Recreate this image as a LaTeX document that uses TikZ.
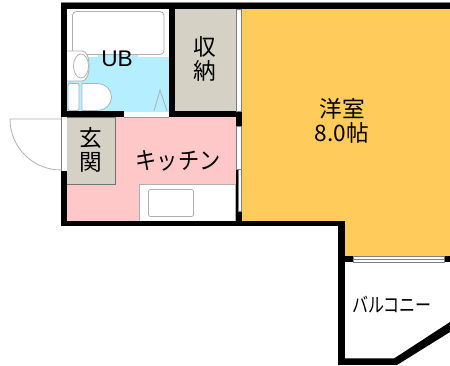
\documentclass[tikz,border=0pt]{standalone}
\usepackage{fontspec}
\setmainfont{Liberation Sans}
\newfontfamily\jp{Noto Sans CJK JP}
\definecolor{orangeroom}{HTML}{FFCC5C}
\definecolor{pinkroom}{HTML}{FFC8C8}
\definecolor{blueroom}{HTML}{B4EEFF}
\definecolor{beigeroom}{HTML}{D5D2C5}
\definecolor{fix}{HTML}{B0B0B0}
\tikzset{
 wall/.style={fill=black,draw=none},
 fixture/.style={draw=fix,fill=white,line width=0.6pt},
 sash/.style={draw=black!50,fill=white,line width=0.6pt},
 lab/.style={font=\jp\fontsize{17}{20}\selectfont,align=center,inner sep=0pt,text=black}
}
\begin{document}
\begin{tikzpicture}[x=0.75pt,y=-0.75pt]
\useasboundingbox (0,0) rectangle (450,366);
\fill[white] (0,0) rectangle (450,366);
% rooms
\fill[orangeroom] (241.5,9) -- (450,9) -- (450,256) -- (344,256) -- (344,221) -- (241.5,221) -- cycle;
\fill[white] (67,9) rectangle (169,57);
\fill[blueroom] (67,57) rectangle (169,112);
\fill[blueroom] (98,46) rectangle (138,57);
\fill[beigeroom] (175,9) rectangle (235.5,111);
\fill[pinkroom] (67,117) rectangle (236,221);
\draw[draw=black!55,fill=beigeroom,line width=0.5pt] (67,117) -- (115.5,117) -- (115.5,184) -- (67,184);
% fixtures
\draw[fixture,rounded corners=3pt] (72.5,11.5) rectangle (164,54.5);
\draw[fixture] (67,51) -- (82,51) .. controls (87,51) and (89,58) .. (89,66) .. controls (89,74) and (87,81) .. (82,81) -- (67,81);
\draw[fixture] (81,66) ellipse [x radius=7.5, y radius=12];
\draw[fixture,rounded corners=1.5pt] (68,83.5) rectangle (79,110.5);
\draw[fixture] (82,83.5) -- (96,83.5) .. controls (106,83.5) and (111.5,90) .. (111.5,97) .. controls (111.5,104) and (106,110.5) .. (96,110.5) -- (82,110.5) -- cycle;
\draw[draw=fix,line width=0.6pt] (154,111) -- (160,90) -- (167,111);
\fill[white,draw=fix,line width=0.5pt] (139.5,184.5) rectangle (235.5,221);
\draw[fixture,rounded corners=1.5pt] (148.5,189.5) rectangle (193.5,216.5);
% door
\draw[draw=fix,line width=0.6pt] (61,119) -- (10,119) arc[start angle=180,end angle=90,radius=51];
% walls
\fill[wall] (61,3) rectangle (450,9);
\fill[wall] (61,3) rectangle (67,117);
\fill[wall] (169,3) rectangle (175,117);
\fill[wall] (61,111.5) rectangle (124,117.5);
\fill[wall] (169,111.5) rectangle (241.5,117.5);
\fill[wall] (235.7,111.5) rectangle (241.5,126.5);
\fill[wall] (235.7,169) rectangle (238.5,221);
\fill[wall] (238.5,211) rectangle (241.5,221);
\fill[wall] (61,171) rectangle (67,226);
\fill[wall] (61,221) rectangle (344.5,226.5);
\fill[wall] (338,221) rectangle (344.5,365);
\fill[wall] (338,358.5) -- (394,358.5) -- (450,322) -- (450,332) -- (397,365) -- (338,365) -- cycle;
\fill[wall] (344,256) rectangle (353,262);
\fill[wall] (444,256) rectangle (450,262);
% windows
\draw[sash] (236,9) rectangle (241.2,111);
\draw[sash] (236,126.5) rectangle (241.2,169);
\draw[sash] (238.8,169) rectangle (241.2,211);
\draw[sash] (353,256) rectangle (444,262);
\draw[draw=black!50,line width=0.5pt] (353,259) -- (444,259);
\draw[draw=black!50,line width=0.5pt] (61,117.5) -- (61,171);
\draw[draw=black!40,line width=0.4pt] (124,117.2) -- (169,117.2);
\draw[draw=black!50,line width=0.5pt] (61,2.7) -- (450,2.7);
% labels
\node[font=\fontsize{17}{20}\selectfont,inner sep=0pt] (ub) at (117,59) {UB};
\node[lab,font=\jp\fontsize{17}{17.5}\selectfont] (closet) at (205,59) {収\\納};
\node[lab,font=\jp\fontsize{17}{18}\selectfont] (entry) at (90.5,149.5) {玄\\関};
\node[lab,font=\jp\fontsize{18}{21}\selectfont] (kitchen) at (178,160.5) {\scalebox{0.885}[1]{キッチン}};
\node[lab] (room) at (342,121) {洋室\\[-2pt]8.0帖};
\node[lab,font=\jp\fontsize{15}{18}\selectfont] (balcony) at (392,305) {\scalebox{0.8}[1]{バルコニー}};
\end{tikzpicture}
\end{document}
